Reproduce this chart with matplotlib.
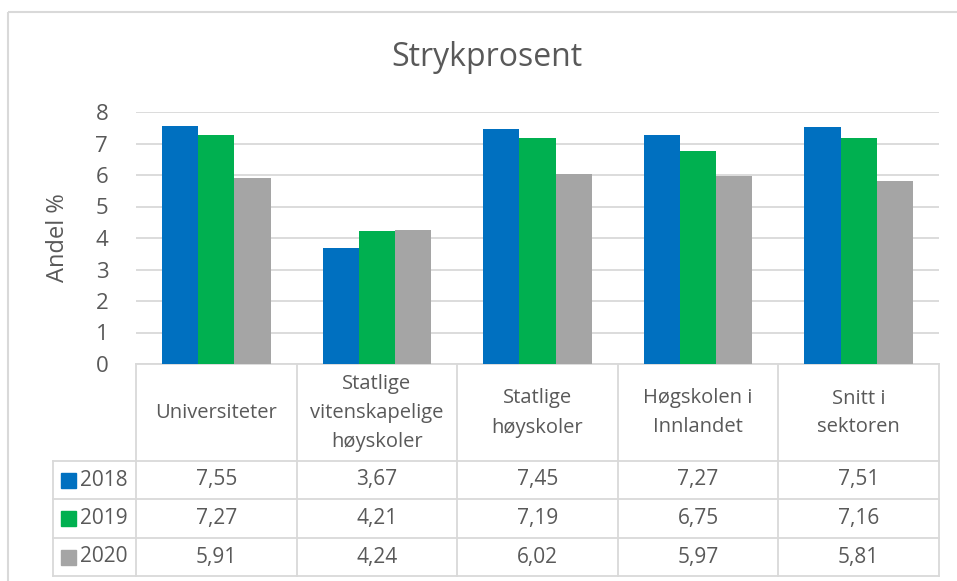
import matplotlib

matplotlib.use("Agg")
import matplotlib.pyplot as plt
from matplotlib.lines import Line2D
from matplotlib.patches import Rectangle
from matplotlib.transforms import blended_transform_factory

plt.rcParams["font.family"] = ["Open Sans", "DejaVu Sans"]

categories = [
    "Universiteter",
    "Statlige\nvitenskapelige\nhøyskoler",
    "Statlige\nhøyskoler",
    "Høgskolen i\nInnlandet",
    "Snitt i\nsektoren",
]
years = ["2018", "2019", "2020"]
v2018 = [7.55, 3.67, 7.45, 7.27, 7.51]
v2019 = [7.27, 4.21, 7.19, 6.75, 7.16]
v2020 = [5.91, 4.24, 6.02, 5.97, 5.81]
series = [v2018, v2019, v2020]
colors = ["#0070C0", "#00B050", "#A5A5A5"]

TXT = "#595959"
GRID = "#D9D9D9"
W, H = 957, 581

fig = plt.figure(figsize=(W / 100, H / 100), dpi=100)


def fx(px):
    return px / W


def fy(py):
    return 1 - py / H


# plot area in pixel coordinates of the reference
left, right, top, bottom = 136, 939, 112, 364
ax = fig.add_axes([fx(left), fy(bottom), fx(right - left), (bottom - top) / H])

bw = 0.225
x = list(range(len(categories)))
for i, (vals, c) in enumerate(zip(series, colors)):
    ax.bar([xi + (i - 1) * bw for xi in x], vals, width=bw, color=c, zorder=3)

ax.set_xlim(-0.5, len(categories) - 0.5)
ax.set_ylim(0, 8)
ax.set_yticks(range(0, 9))
ax.yaxis.grid(True, color=GRID, lw=1.3, zorder=0)
ax.set_xticks([])
for s in ax.spines.values():
    s.set_visible(False)
ax.tick_params(axis="y", length=0, labelsize=16, labelcolor=TXT, pad=20)
ax.set_ylabel("Andel %", fontsize=17, color=TXT, labelpad=18)

fig.text(fx(487), fy(58), "Strykprosent", ha="center", va="center",
         fontsize=23, color=TXT)

# data table under the axis
tr = blended_transform_factory(ax.transData, ax.transAxes)


def ay(py):
    return (bottom - py) / (bottom - top)


row_y = [364, 461, 499, 538, 576]
cw = (right - left) / len(categories)
x_left_hdr = -0.5 - (136 - 53) / cw
lk = dict(color=GRID, lw=1.3, transform=tr, clip_on=False)

# horizontal lines
ax.add_line(Line2D([-0.5, len(categories) - 0.5], [ay(364)] * 2, **lk))
for py in row_y[1:]:
    ax.add_line(Line2D([x_left_hdr, len(categories) - 0.5], [ay(py)] * 2, **lk))
# vertical lines
for k in range(len(categories) + 1):
    ax.add_line(Line2D([k - 0.5] * 2, [ay(364), ay(576)], **lk))
ax.add_line(Line2D([x_left_hdr] * 2, [ay(461), ay(576)], **lk))

# category labels
for xi, lab in zip(x, categories):
    ax.text(xi, ay(413), lab, transform=tr, ha="center", va="center",
            fontsize=14.5, color=TXT, linespacing=1.6)

# value rows
sq = 15 / cw
for r, (yr, vals, c) in enumerate(zip(years, series, colors)):
    yc = ay((row_y[r + 1] + row_y[r + 2]) / 2)
    for xi, v in zip(x, vals):
        ax.text(xi, yc, f"{v:.2f}".replace(".", ","), transform=tr,
                ha="center", va="center", fontsize=15, color=TXT)
    x0 = x_left_hdr + 8 / cw
    ax.add_patch(Rectangle((x0, yc - 7.5 / (bottom - top)), sq, 15 / (bottom - top),
                           color=c, transform=tr, clip_on=False))
    ax.text(x0 + sq + 4 / cw, yc, yr, transform=tr, ha="left", va="center",
            fontsize=15, color=TXT)

# outer chart border (cropped at right and bottom in the reference)
fig.add_artist(Rectangle((fx(8), fy(12)), fx(1000), -1.2, transform=fig.transFigure,
                         fill=False, edgecolor=GRID, lw=1.5))

fig.savefig("out.png", dpi=100)
